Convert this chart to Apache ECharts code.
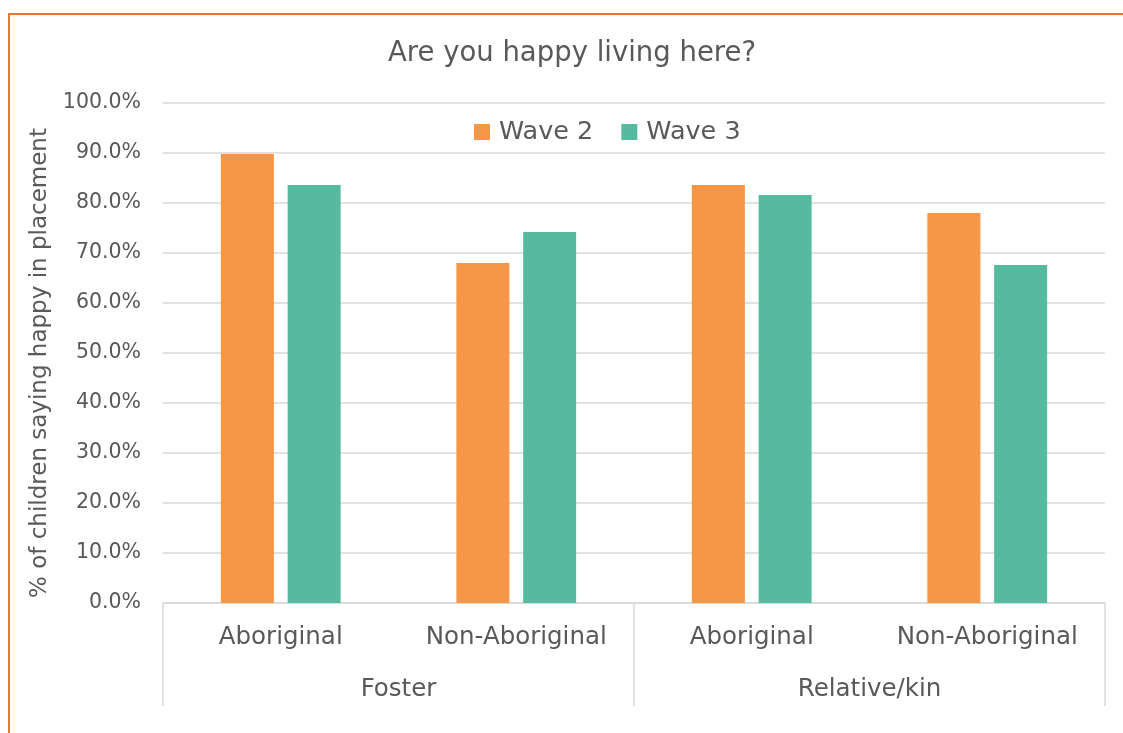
<!DOCTYPE html>
<html>
<head>
<meta charset="utf-8">
<title>Are you happy living here?</title>
<script src="https://cdn.jsdelivr.net/npm/echarts@6/dist/echarts.min.js"></script>
<style>
  html, body { margin: 0; padding: 0; background: #fff; overflow: hidden; }
  .frame {
    position: absolute; left: 8px; top: 13px; width: 1200px; height: 800px;
    border-top: 2px solid #E8792A; border-left: 2px solid #E8792A;
  }
  #chart { position: absolute; left: 0; top: 0; width: 1123px; height: 733px; }
</style>
</head>
<body>
<div class="frame"></div>
<div id="chart"></div>
<script>
  // 数据
  var subCategories = ['Aboriginal', 'Non-Aboriginal', 'Aboriginal', 'Non-Aboriginal']
  var groupCategories = ['Foster', 'Relative/kin']
  var wave2 = [89.8, 68.0, 83.6, 78.0]
  var wave3 = [83.6, 74.2, 81.6, 67.6]
  var seriesNames = ['Wave 2', 'Wave 3']

  var font = 'DejaVu Sans'
  var textColor = '#595959'
  var lineColor = '#D9D9D9'

  var chart = echarts.init(document.getElementById('chart'))
  chart.setOption({
    animation: false,
    color: ['#F79646', '#56BA9E'],
    textStyle: { fontFamily: font, color: textColor },
    title: {
      text: 'Are you happy living here?',
      left: 383,
      top: 35,
      textStyle: { fontFamily: font, fontSize: 27.5, fontWeight: 'normal', color: textColor }
    },
    legend: {
      left: 469,
      top: 114,
      itemWidth: 16,
      itemHeight: 16,
      itemGap: 28,
      icon: 'rect',
      textStyle: { fontFamily: font, fontSize: 25.5, color: textColor, padding: [0, 0, 0, 4] },
      data: seriesNames
    },
    grid: { left: 163, right: 18, top: 103, bottom: 130 },
    xAxis: [
      {
        type: 'category',
        data: subCategories,
        position: 'bottom',
        axisLine: { show: true, lineStyle: { color: lineColor, width: 1.5 } },
        axisTick: { show: false },
        axisLabel: { fontFamily: font, fontSize: 24.5, color: textColor, margin: 20, lineHeight: 30 }
      },
      {
        type: 'category',
        data: groupCategories,
        position: 'bottom',
        axisLine: { show: false },
        axisTick: { show: true, length: 103, lineStyle: { color: lineColor, width: 1.5 } },
        axisLabel: { fontFamily: font, fontSize: 24.5, color: textColor, margin: 72, lineHeight: 30 }
      }
    ],
    yAxis: {
      type: 'value',
      min: 0,
      max: 100,
      interval: 10,
      name: '% of children saying happy in placement',
      nameLocation: 'middle',
      nameGap: 105,
      nameTextStyle: { fontFamily: font, fontSize: 23, color: textColor, padding: [0, 20, 0, 0] },
      axisLine: { show: false },
      axisTick: { show: false },
      axisLabel: {
        fontFamily: font, fontSize: 20.5, color: textColor, margin: 22,
        formatter: function (v) { return v.toFixed(1) + '%' }
      },
      splitLine: { show: true, lineStyle: { color: lineColor, width: 1.5 } }
    },
    series: [
      { name: seriesNames[0], type: 'bar', xAxisIndex: 0, barWidth: 53, barGap: '26%', data: wave2 },
      { name: seriesNames[1], type: 'bar', xAxisIndex: 0, barWidth: 53, barGap: '26%', data: wave3 }
    ]
  })
</script>
</body>
</html>
